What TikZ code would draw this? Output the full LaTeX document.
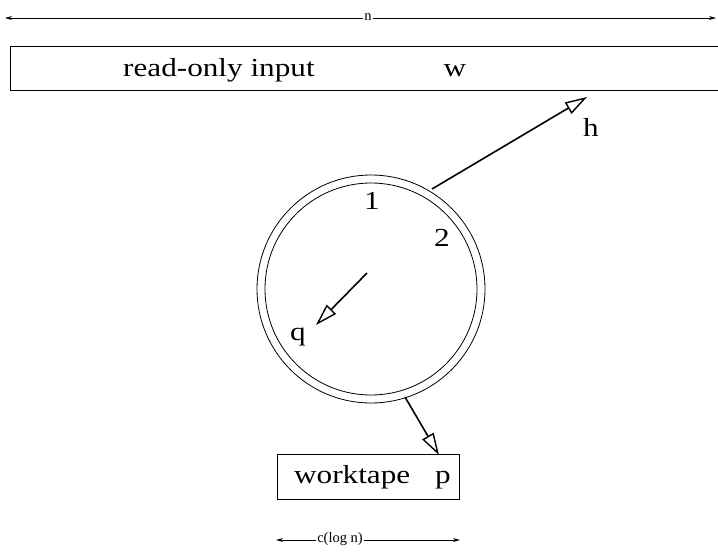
\documentclass[tikz,border=0pt]{standalone}
\usepackage{fontspec}
\setmainfont[FakeStretch=1.2]{Liberation Serif}
\newfontfamily\plainserif{Liberation Serif}
\usetikzlibrary{arrows.meta}
\tikzset{
  big/.style={font=\fontsize{26}{30}\selectfont, inner sep=0pt},
  small/.style={font=\plainserif\fontsize{14.5}{16}\selectfont, inner sep=1pt, fill=white},
  thinline/.style={line width=0.8pt},
  headarrow/.style={line width=1.6pt, -{Triangle[open, length=22pt, width=13pt, line width=1.4pt]}},
  dimarrow/.style={line width=0.8pt, {Stealth[length=7pt, width=4pt]}-{Stealth[length=7pt, width=4pt]}},
  tapebox/.style={draw, line width=0.8pt}
}
\begin{document}
\begin{tikzpicture}[x=1pt, y=-1pt]
\useasboundingbox (0,0) rectangle (718,552);
\clip (0,0) rectangle (718,552);
% top dimension
\coordinate (nl) at (5,18);
\coordinate (nr) at (716,18);
\draw[dimarrow] (nl) -- (nr);
\node[small] (nlab) at (368,17) {n};
% input tape
\draw[tapebox] (10,46) rectangle (730,90);
\node[big, anchor=base west] (ro) at (123,76) {read-only input};
\node[big, anchor=base] (w) at (455,76) {w};
% control circle
\coordinate (c) at (371,289);
\draw[thinline] (c) circle[radius=114];
\draw[thinline] (c) circle[radius=106];
\node[big, anchor=base] (one) at (372,209) {1};
\node[big, anchor=base] (two) at (442,246) {2};
% head arrow
\coordinate (hs) at (432,189);
\coordinate (ht) at (587,97);
\draw[headarrow] (hs) -- (ht);
\node[big, anchor=base] (h) at (591,136) {h};
% state arrow
\coordinate (qs) at (367,273);
\coordinate (qt) at (316,325);
\draw[headarrow] (qs) -- (qt);
\node[big, anchor=base] (q) at (298,340) {q};
% worktape arrow
\coordinate (ps) at (405,397);
\coordinate (pt) at (439,455);
\draw[headarrow] (ps) -- (pt);
% worktape
\draw[tapebox] (277,454) rectangle (459,499);
\node[big, anchor=base west] (wt) at (294,483) {worktape};
\node[big, anchor=base] (p) at (443,483) {p};
% bottom dimension
\coordinate (bl) at (276,540);
\coordinate (br) at (460,540);
\draw[dimarrow] (bl) -- (br);
\node[small] (clab) at (340,539) {c(log n)};
\end{tikzpicture}
\end{document}
